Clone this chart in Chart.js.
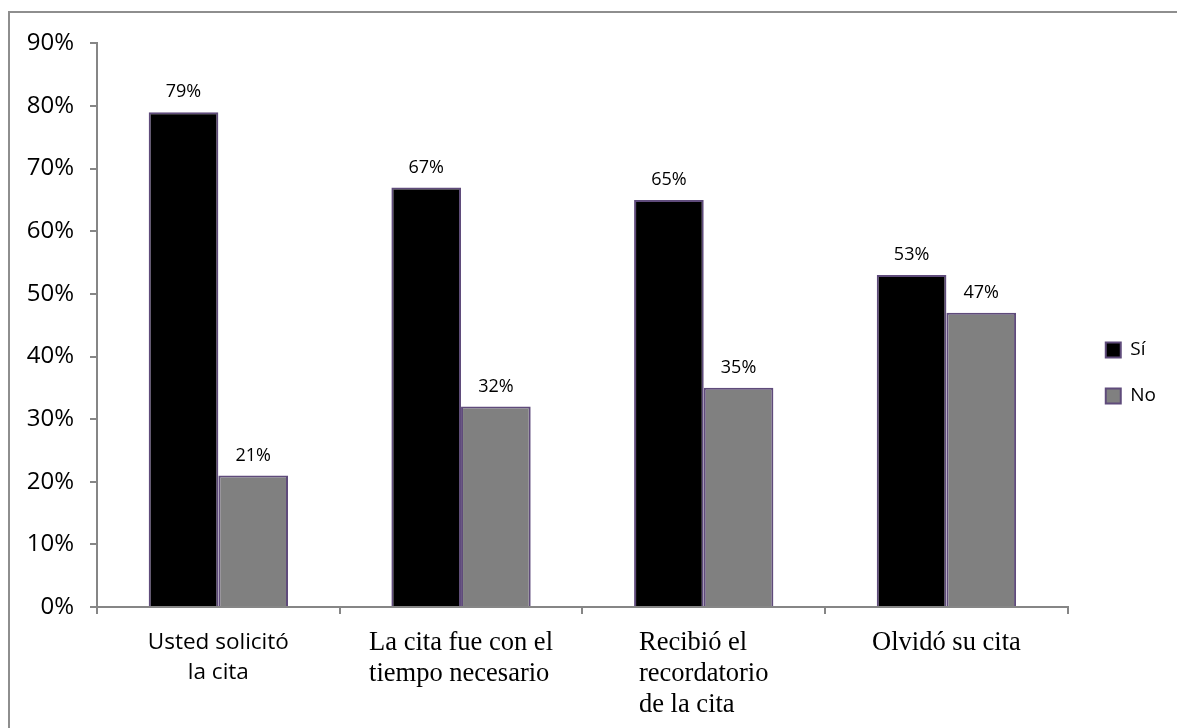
<!DOCTYPE html>
<html>
<head>
<meta charset="utf-8">
<script src="https://cdn.jsdelivr.net/npm/chart.js@4.4.1/dist/chart.umd.min.js"></script>
<style>
  html, body { margin: 0; padding: 0; background: #fff; overflow: hidden; }
  body { width: 1177px; height: 728px; position: relative; }
  #frame {
    position: absolute; left: 8px; top: 11px;
    width: 1169px; height: 717px;
    box-sizing: border-box;
    border-left: 2px solid #8e8e8e; border-top: 2px solid #8e8e8e;
  }
</style>
</head>
<body>
<div id="frame"><canvas id="citaChart"></canvas></div>
<script>
const categories = [
    ['Usted solicitó', 'la cita'],
    ['La cita fue con el', 'tiempo necesario'],
    ['Recibió el', 'recordatorio', 'de la cita'],
    ['Olvidó su cita']
];
const siValues = [79, 67, 65, 53];
const noValues = [21, 32, 35, 47];
const yTicks = [0, 10, 20, 30, 40, 50, 60, 70, 80, 90];

const SANS = '"Open Sans", "Noto Sans", sans-serif';
const SERIF = '"Liberation Serif", "DejaVu Serif", serif';

// value labels above each bar
const valueLabels = {
    id: 'valueLabels',
    afterDatasetsDraw(chart) {
        const ctx = chart.ctx;
        ctx.save();
        ctx.font = '18px ' + SANS;
        ctx.fillStyle = '#000';
        ctx.textAlign = 'center';
        ctx.textBaseline = 'middle';
        chart.data.datasets.forEach((ds, di) => {
            chart.getDatasetMeta(di).data.forEach((bar, i) => {
                ctx.fillText(ds.data[i] + '%', bar.x, bar.y - 20);
            });
        });
        ctx.restore();
    }
};

// category labels under the axis; the first one is centred, the rest are
// left-aligned blocks centred on their category
const categoryLabels = {
    id: 'categoryLabels',
    afterDraw(chart) {
        const ctx = chart.ctx;
        const xs = chart.scales.x;
        ctx.save();
        ctx.fillStyle = '#000';
        ctx.textBaseline = 'middle';
        categories.forEach((lines, i) => {
            const cx = xs.getPixelForValue(i);
            if (i === 0) {
                ctx.font = '22.5px ' + SANS;
                ctx.textAlign = 'center';
                lines.forEach((line, k) => ctx.fillText(line, cx, xs.top + 36 + k * 30));
                return;
            }
            ctx.font = '26.5px ' + SERIF;
            ctx.textAlign = 'left';
            const w = Math.max(...lines.map(l => ctx.measureText(l).width));
            const x0 = cx - w / 2;
            lines.forEach((line, k) => ctx.fillText(line, x0, xs.top + 36 + k * 31));
        });
        ctx.restore();
    }
};

new Chart(document.getElementById('citaChart'), {
    type: 'bar',
    data: {
        labels: categories.map(c => c.join(' ')),
        datasets: [{
            label: 'Sí',
            data: siValues,
            backgroundColor: '#000000',
            borderColor: '#5f4b7b',
            borderWidth: 2
        }, {
            label: 'No',
            data: noValues,
            backgroundColor: '#808080',
            borderColor: '#5f4b7b',
            borderWidth: 2
        }]
    },
    options: {
        responsive: true,
        maintainAspectRatio: false,
        animation: false,
        layout: { padding: { top: 25, right: 11, left: 0, bottom: 20 } },
        datasets: { bar: { barPercentage: 1, categoryPercentage: 0.574 } },
        plugins: {
            tooltip: { enabled: false },
            legend: {
                position: 'right',
                labels: {
                    color: '#000',
                    font: { family: SANS, size: 19 },
                    boxWidth: 15,
                    boxHeight: 15,
                    padding: 27
                }
            }
        },
        scales: {
            x: {
                grid: { display: true, drawOnChartArea: false, tickLength: 7, color: '#868686', lineWidth: 2 },
                border: { color: '#868686', width: 2 },
                ticks: { display: false },
                afterFit(scale) { scale.height = 101; }
            },
            y: {
                min: 0,
                max: 90,
                afterBuildTicks(scale) { scale.ticks = yTicks.map(v => ({ value: v })); },
                grid: { drawOnChartArea: false, tickLength: 7, color: '#868686', lineWidth: 2 },
                border: { color: '#868686', width: 2 },
                ticks: {
                    color: '#000',
                    font: { family: SANS, size: 24 },
                    padding: 16,
                    callback: v => v + '%'
                },
                afterFit(scale) { scale.width = 87; }
            },
            // empty spacer between the plot and the legend
            gap: {
                type: 'linear',
                axis: 'y',
                position: 'right',
                grid: { display: false },
                border: { display: false },
                ticks: { display: false },
                afterFit(scale) { scale.width = 11; }
            }
        }
    },
    plugins: [valueLabels, categoryLabels]
});
</script>
</body>
</html>
